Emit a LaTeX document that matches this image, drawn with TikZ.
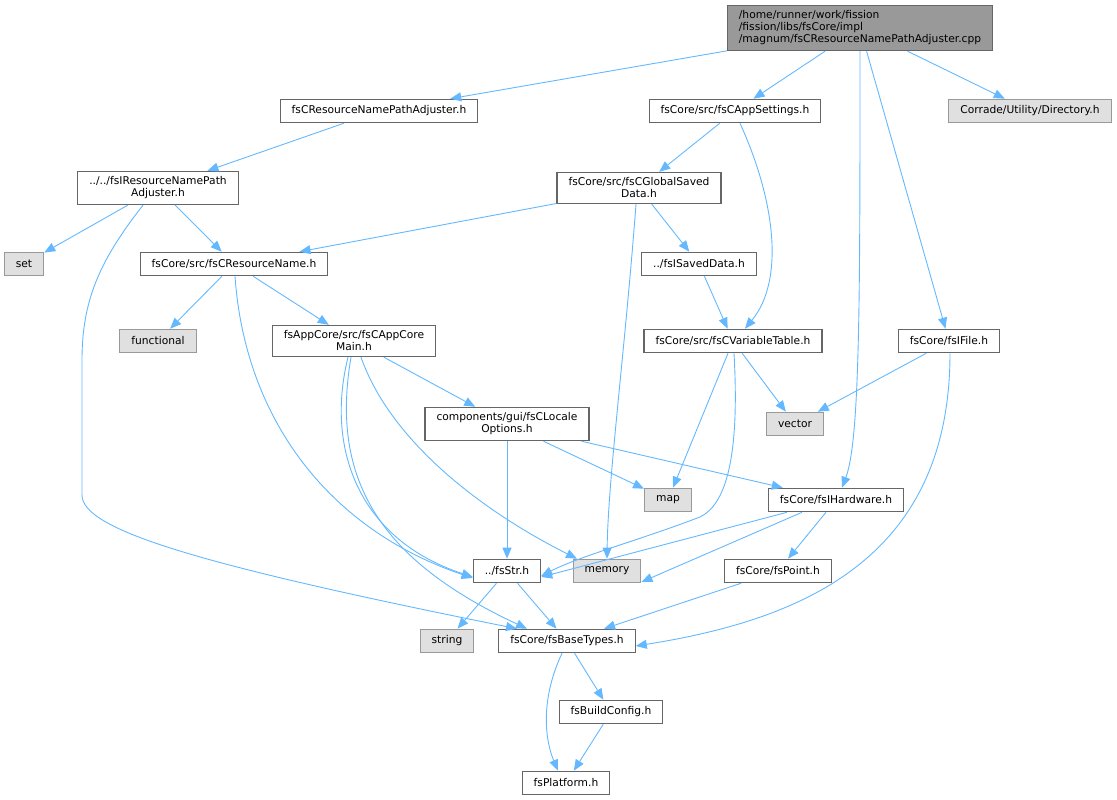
\documentclass[tikz,border=0pt]{standalone}
\usepackage{fontspec}
\setmainfont{DejaVu Sans}
\usetikzlibrary{arrows.meta}

\definecolor{edgeblue}{HTML}{63B8FF}
\definecolor{boxline}{HTML}{666666}
\definecolor{extline}{HTML}{999999}
\definecolor{extfill}{HTML}{E0E0E0}

\tikzset{
	hdr/.style={draw=boxline,fill=white,line width=1.1pt,inner xsep=11.5pt,inner ysep=5.5pt,
		minimum height=23.5pt,align=center,font=\fontsize{10.7}{12}\selectfont},
	sys/.style={hdr,draw=extline,fill=extfill},
	src/.style={hdr,fill=extline,draw=boxline,align=left},
	edge/.style={draw=edgeblue,line width=0.9pt,-{Triangle[length=11pt,width=9pt]}}
}

\begin{document}
\begin{tikzpicture}[x=1pt,y=-1pt]
	\useasboundingbox (0,0) rectangle (1117,800);

	% the file itself
	\node[src] (main) at (860,28) {/home/runner/work/fission\\/fission/libs/fsCore/impl\\/magnum/fsCResourceNamePathAdjuster.cpp};

	% headers of the project
	\node[hdr] (adj) at (379,111) {fsCResourceNamePathAdjuster.h};
	\node[hdr] (appset) at (735,111) {fsCore/src/fsCAppSettings.h};
	\node[sys] (corrade) at (1030,111) {Corrade/Utility/Directory.h};
	\node[hdr] (iadj) at (158,188) {../../fsIResourceNamePath\\Adjuster.h};
	\node[hdr] (gsd) at (639,188) {fsCore/src/fsCGlobalSaved\\Data.h};
	\node[sys] (set) at (24,264) {set};
	\node[hdr] (rname) at (234,264) {fsCore/src/fsCResourceName.h};
	\node[hdr] (isaved) at (699,264) {../fsISavedData.h};
	\node[sys] (functional) at (158,341) {functional};
	\node[hdr] (appcore) at (354,341) {fsAppCore/src/fsCAppCore\\Main.h};
	\node[hdr] (vartab) at (733,341) {fsCore/src/fsCVariableTable.h};
	\node[hdr] (ifile) at (949,341) {fsCore/fsIFile.h};
	\node[hdr] (locale) at (507,424) {components/gui/fsCLocale\\Options.h};
	\node[sys] (vector) at (795,424) {vector};
	\node[sys] (map) at (668,500) {map};
	\node[hdr] (hw) at (836,500) {fsCore/fsIHardware.h};
	\node[hdr] (str) at (507,571) {../fsStr.h};
	\node[sys] (memory) at (607,571) {memory};
	\node[hdr] (point) at (778,571) {fsCore/fsPoint.h};
	\node[sys] (string) at (447,641) {string};
	\node[hdr] (base) at (567,641) {fsCore/fsBaseTypes.h};
	\node[hdr] (build) at (611,712) {fsBuildConfig.h};
	\node[hdr] (platform) at (566,783) {fsPlatform.h};

	% straight includes
	\foreach \a/\b in {main/adj,main/appset,main/ifile,main/corrade,adj/iadj,iadj/set,iadj/rname,
		appset/gsd,gsd/rname,gsd/isaved,isaved/vartab,rname/functional,rname/appcore,
		appcore/locale,locale/str,locale/map,locale/hw,vartab/map,vartab/vector,
		hw/point,ifile/vector,point/base,str/string,str/base,base/build,build/platform} {
		\draw[edge] (\a) -- (\b);
	}

	% curved includes
	\draw[edge] (main.south) .. controls (860,300) and (860,440) .. ([xshift=6pt]hw.north);
	\draw[edge] ([xshift=-15pt]iadj.south) .. controls (100,260) and (82,300) .. (82,360)
		-- (82,495) .. controls (82,530) and (200,565) .. ([xshift=-50pt]base.north);
	\draw[edge] ([xshift=5pt]appset.south) .. controls (775,200) and (785,280) .. ([xshift=12pt]vartab.north);
	\draw[edge] ([xshift=-3pt]gsd.south) .. controls (625,350) and (608,480) .. (memory.north);
	\draw[edge] ([xshift=1pt]rname.south) .. controls (245,420) and (330,530) .. ([yshift=-7pt]str.west);
	\draw[edge] ([xshift=-6pt]appcore.south) .. controls (325,450) and (360,540) .. ([yshift=-6pt]str.west);
	\draw[edge] ([xshift=-3pt]appcore.south) .. controls (330,480) and (380,560) .. ([xshift=-40pt]base.north);
	\draw[edge] ([xshift=7pt]appcore.south) .. controls (390,440) and (480,510) .. ([xshift=-30pt]memory.north);
	\draw[edge] ([xshift=1pt]vartab.south) .. controls (740,460) and (725,505) .. (700,517)
		.. controls (640,540) and (580,556) .. ([yshift=-5pt]str.east);
	\draw[edge] ([xshift=-49pt]hw.south) -- ([yshift=-6pt]str.east);
	\draw[edge] ([xshift=-34pt]hw.south) -- ([yshift=-11pt]memory.east);
	\draw[edge] ([xshift=1pt]ifile.south) .. controls (950,560) and (800,620) .. ([yshift=-5pt]base.east);
	\draw[edge] ([xshift=-5pt]base.south) .. controls (540,700) and (545,740) .. ([xshift=-8pt]platform.north);

\end{tikzpicture}
\end{document}
